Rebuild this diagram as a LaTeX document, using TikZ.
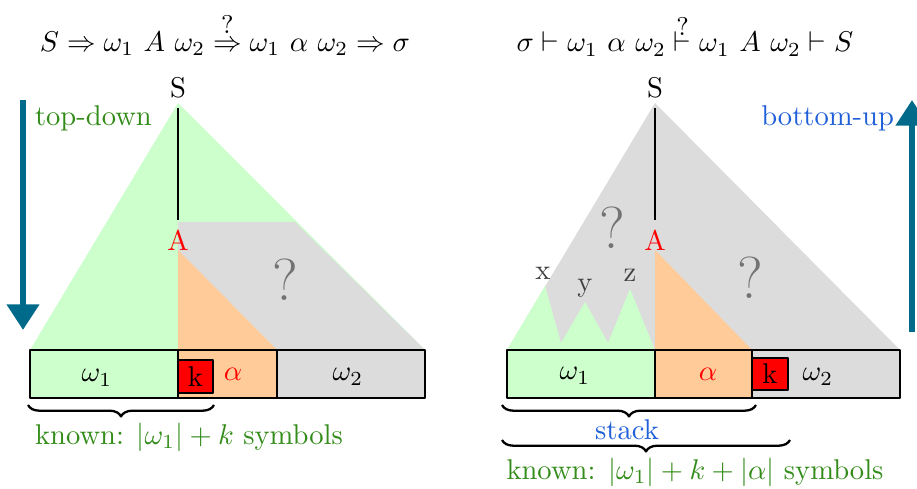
\documentclass[tikz,border=0pt]{standalone}
\usetikzlibrary{arrows.meta,decorations.pathreplacing}

\definecolor{treegreen}{HTML}{CCFFCC}
\definecolor{alphaorange}{HTML}{FFCC99}
\definecolor{unkgray}{HTML}{DCDCDC}
\definecolor{textgreen}{HTML}{338C1A}
\definecolor{textblue}{HTML}{1F5FD9}
\definecolor{arrowteal}{HTML}{006A8A}

% Relation mit Fragezeichen direkt darüber (#1 = Höhe des Fragezeichens)
\newcommand{\qrel}[2]{\mathrel{\setbox0\hbox{$#2$}\rlap{\hbox to\wd0{\hss\raisebox{#1}[0pt][0pt]{\small ?}\hss}}\box0}}

\tikzset{
  seg/.style={draw=black, thick},
  kbox/.style={draw=black, thick, fill=red, inner sep=0pt, minimum width=12.4pt, minimum height=11.4pt},
  qmark/.style={text=black!55, font=\huge},
  peak/.style={text=black!75},
  br/.style={decorate, decoration={brace, mirror, amplitude=4pt}, thick},
  dirarrow/.style={arrowteal, line width=2.2pt, -{Triangle[width=11pt,length=9pt]}},
}

\begin{document}
\begin{tikzpicture}[x=0.35pt, y=0.35pt, line join=round]
  \useasboundingbox (0,0) rectangle (917,489);

  % ---------- left: top-down ----------
  \node (derL) at (225,445) {$S \Rightarrow \omega_1\ A\ \omega_2 \qrel{6.2pt}{\Rightarrow} \omega_1\ \alpha\ \omega_2 \Rightarrow \sigma$};
  \fill[treegreen] (178,386) -- (30,139) -- (425,139) -- cycle;
  \fill[unkgray] (178,267) -- (295,267) -- (425,139) -- (178,139) -- cycle;
  \fill[alphaorange] (178,239) -- (178,139) -- (277,139) -- cycle;
  \node (SL) at (178,401) {S};
  \node[text=red] (AL) at (178,249) {A};
  \draw[thick] (SL.south) -- (AL.north);
  \node[qmark] (qL) at (285,209) {?};
  % Eingabe
  \draw[seg, fill=treegreen] (30,91) rectangle (178,139);
  \draw[seg, fill=alphaorange] (178,91) rectangle (277,139);
  \draw[seg, fill=unkgray] (277,91) rectangle (425,139);
  \node (w1L) at (97,111) {$\omega_1$};
  \node[text=red] (alL) at (233,115) {$\alpha$};
  \node (w2L) at (348,112) {$\omega_2$};
  \node[kbox] (kL) at (195.5,112.5) {k};
  \draw[br] (28,84) -- (214,84);
  \node[anchor=west, text=textgreen] (knL) at (25,52) {known: $|\omega_1| + k$ symbols};
  % Richtung
  \coordinate (tdA) at (23,389);
  \coordinate (tdB) at (23,159);
  \draw[dirarrow] (tdA) -- (tdB);
  \node[anchor=west, text=textgreen] (td) at (25,371) {top-down};

  % ---------- right: bottom-up ----------
  \node (derR) at (685,445) {$\sigma \vdash \omega_1\ \alpha\ \omega_2 \qrel{5.6pt}{\vdash} \omega_1\ A\ \omega_2 \vdash S$};
  \fill[unkgray] (655,386) -- (507,139) -- (900,139) -- cycle;
  \fill[treegreen] (507,139) -- (545,203) -- (561,146) -- (585,187) -- (608,146) -- (630,200) -- (655,139) -- cycle;
  \fill[alphaorange] (655,239) -- (655,139) -- (752,139) -- cycle;
  \foreach \t/\x/\y in {x/543/216, y/585/201, z/630/214}
    \node[peak] (p\t) at (\x,\y) {\t};
  \node (SR) at (655,401) {S};
  \node[text=red] (AR) at (655,249) {A};
  \draw[thick] (SR.south) -- (AR.north);
  \node[qmark] (qR1) at (612,261) {?};
  \node[qmark] (qR2) at (750,211) {?};
  % Eingabe
  \draw[seg, fill=treegreen] (507,91) rectangle (655,139);
  \draw[seg, fill=alphaorange] (655,91) rectangle (752,139);
  \draw[seg, fill=unkgray] (752,91) rectangle (900,139);
  \node (w1R) at (575,113) {$\omega_1$};
  \node[text=red] (alR) at (708,115) {$\alpha$};
  \node (w2R) at (818,112) {$\omega_2$};
  \node[kbox, minimum width=12.6pt] (kR) at (770,115) {k};
  \draw[br] (502,84) -- (756,84);
  \node[text=textblue] (stack) at (627,59) {stack};
  \draw[br] (502,49) -- (790,49);
  \node[text=textgreen] (knR) at (695,17) {known: $|\omega_1| + k + |\alpha|$ symbols};
  % Richtung
  \coordinate (buA) at (912,157);
  \coordinate (buB) at (912,389);
  \draw[dirarrow] (buA) -- (buB);
  \node[anchor=east, text=textblue] (bu) at (904,371) {bottom-up};
\end{tikzpicture}
\end{document}
